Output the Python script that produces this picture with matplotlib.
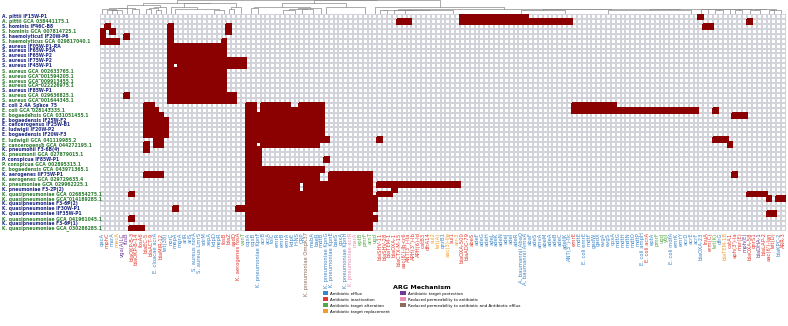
import matplotlib
matplotlib.use("Agg")
import matplotlib.pyplot as plt
import matplotlib.transforms as mtrans
from matplotlib.colors import ListedColormap
from matplotlib.patches import Patch
import numpy as np

# genomes (rows, top to bottom)
genomes = [
    "A. pittii IF15W-P1", "A. pittii GCA_038441175.1",
    "S. hominis IF46C-B8", "S. hominis GCA_007814725.1",
    "S. haemolyticus IF20W-P6", "S. haemolyticus GCA_029817040.1",
    "S. aureus IF05W-P1-RA", "S. aureus IF65W-P3A", "S. aureus IF65W-P2",
    "S. aureus IF75W-P2", "S. aureus IF45W-P1", "S. aureus GCA_002633765.1",
    "S. aureus GCA_001594205.1", "S. aureus GCA_009913455.1",
    "S. aureus GCA_022226975.1", "S. aureus IF85W-P1",
    "S. aureus GCA_029636825.1", "S. aureus GCA_001644345.1",
    "E. coli 2.4A_Space_75", "E. coli GCA_028143335.1",
    "E. bogaedensis GCA_031051455.1", "E. bogaedensis IF25W-F2",
    "E. cancerogenus IF25W-B1", "E. ludwigii IF20W-P2",
    "E. bogaedensis IF20W-F3", "E. ludwigii GCA_041119985.2",
    "E. cancerogenus GCA_044272195.1", "K. pneumonii F3-6B(4)",
    "K. pneumonii GCA_027879015.1", "P. conspicua IF85W-P1",
    "P. conspicua GCA_002895315.1", "E. bogaedensis GCA_043971365.1",
    "K. aerogenes IIF75W-P1", "K. aerogenes GCA_029729635.4",
    "K. pneumoniae GCA_029962225.1", "K. pneumoniae F3-2P(2)",
    "K. quasipneumoniae GCA_026854275.1", "K. quasipneumoniae GCA_014189285.1",
    "K. quasipneumoniae F3-6P(2)", "K. quasipneumoniae IF30W-P1",
    "K. quasipneumoniae IIF35W-P1", "K. quasipneumoniae GCA_041961045.1",
    "K. quasipneumoniae F3-6P(1)", "K. quasipneumoniae GCA_030286285.1",
]

# ARG columns (left to right) and their mechanism
genes = [
    "qacA", "mphC", "msrA", "mecA", "vga(A)LC", "fusB", "blaOKP-B-3",
    "blaOKP-B-14", "fosA6", "blaEC-5", "blaACT-9", "E. cloacae acrA",
    "blaMIR-12", "tet(38)", "norC", "mepA", "mgrA", "arlR", "arlS",
    "S. aureus norA", "S. aureus LmrS", "sdrM", "sepA", "kdpD", "mepR",
    "fosB", "blaZ", "aadD", "K. aerogenes fosA", "vanT", "oqxA", "oqxB",
    "K. pneumoniae KpnF", "acrB", "acrA", "tolC", "emrR", "emrB", "emrA",
    "kdpE", "H-NS", "CRP", "K. pneumoniae OmpK37", "msbA", "baeR", "mdtB",
    "K. pneumoniae KpnG", "K. pneumoniae KpnE", "baeS", "cpxA",
    "K. pneumoniae KpnH", "K. pneumoniae acrR", "marA", "eptB", "pmrF",
    "arnT", "ugd", "blaSHV-11", "blaSHV-28", "blaTEM-1", "blaOXA-1",
    "blaCTX-M-15", "aac(6')-Ib-cr6", "ANT(3'')-IIa", "APH(3'')-Ib",
    "APH(6)-Id", "catB3", "dfrA14", "sul2", "tet(A)", "qnrB1",
    "aac(3)-IIe", "sul1", "arr-3", "blaOXA-500", "blaADC-79", "abeS",
    "adeF", "adeG", "adeH", "adeL", "adeK", "adeN", "adeJ", "adeI", "adeR",
    "A. baumannii AbaQ", "A. baumannii AmvA", "abaF", "adeS", "amvA",
    "abeM", "adeA", "adeB", "adeC", "adeIJK", "ANT(3'')-IIc", "emrE",
    "mdtE", "E. coli emrE", "mdtF", "gadW", "gadX", "evgA", "evgS",
    "cpxA", "mdtG", "mdtH", "mdtN", "mdtO", "mdtP", "E. coli ampH",
    "E. coli acrA", "eptA", "pmrF", "ugd", "yojI", "E. coli mdfA", "emrK",
    "emrY", "acrD", "acrE", "acrF", "blaOXA-23", "lnuA", "erm(C)", "tet(K)",
    "dfrG", "blaTEM-1B", "catA1", "aph(3')-Ia", "msr(E)", "mph(E)",
    "blaOXA-58", "qnrS1", "blaDHA-1", "blaLAP-2", "aac(6')-Ian", "tet(D)",
    "blaKPC-2", "ARR-3",
]
mechs = (
    "EIERPPIIIIIEIEEEEEEEEEEEEIIIIA"
    "EEEEEEEEEEEEXEEEEEEEEYYAAAA"
    "IIIIIIIIIIIRRERIRIII"
    "EEEEEEEEEEEEEEEEEEEEI"
    "EEEEEEEEEEEEEEIEAAAEEEEEEE"
    "IIAERIIIPIIPIIIEII"
)

# present genes per genome: column indices / ranges
hits = [
    "74-87,123", "61-63,74-96,133", "1,14,26,124-125", "0,2,14,26",
    "0,5,14", "0-3,14,25",
    "14-25", "14-25", "14-25", "14-29", "14,16-29", "14-25", "14-25",
    "14-25", "14-25", "14-25", "5,14-27", "14-27",
    "9-10,30-31,33-38,41-45,97-105", "9-11,30-31,33-45,97-122,126",
    "9-12,30-45,130-132", "9-13,30-45", "9-13,30-45", "9-13,30-45",
    "9-13,30-45", "11-12,30-46,57,126-128", "9,11-12,30-31,33-44,129",
    "9,30-32", "30-32", "30-32,46", "30-32", "30-45",
    "9-12,30-44,47-55,130", "30-44,47-55", "30-40,42-55,57-73",
    "30-40,42-55,60", "6,30-55,57-59,133-136", "30-56,137,139-140",
    "30-56", "15,28-56", "30-55,137-138", "6,30-56", "30-55", "6-8,30-55",
]

mech_colors = {
    "E": "#3d85c6", "I": "#e03a2f", "A": "#55a845", "R": "#f39c2c",
    "P": "#6f3a98", "Y": "#e88fb4", "X": "#8c6d5a",
}
mech_names = {
    "E": "Antibiotic efflux", "I": "Antibiotic inactivation",
    "A": "Antibiotic target alteration", "R": "Antibiotic target replacement",
    "P": "Antibiotic target protection",
    "Y": "Reduced permeability to antibiotic",
    "X": "Reduced permeability to antibiotic and Antibiotic efflux",
}


def parse_hits(s):
    cols = []
    for part in s.split(","):
        if "-" in part:
            a, b = part.split("-")
            cols += list(range(int(a), int(b) + 1))
        else:
            cols.append(int(part))
    return cols


n_rows, n_cols = len(genomes), len(genes)
mat = np.zeros((n_rows, n_cols))
for r, s in enumerate(hits):
    mat[r, parse_hits(s)] = 1


def adjacent_tree(m):
    # merge neighbouring columns (closest centroids first) so leaf order is kept
    nodes = [(m[:, i], i + 0.5, 0.0, 1) for i in range(m.shape[1])]
    links = []
    while len(nodes) > 1:
        d = [np.linalg.norm(nodes[i][0] - nodes[i + 1][0]) for i in range(len(nodes) - 1)]
        k = int(np.argmin(d))
        a, b = nodes[k], nodes[k + 1]
        h = max(d[k], a[2], b[2])
        links.append((a[1], a[2], b[1], b[2], h))
        cen = (a[0] * a[3] + b[0] * b[3]) / (a[3] + b[3])
        nodes[k:k + 2] = [(cen, (a[1] + b[1]) / 2, h, a[3] + b[3])]
    return links


W, H = 788, 326
fig = plt.figure(figsize=(W / 100, H / 100), dpi=100)
hx0, hx1, hy0, hy1 = 100, 786, 14, 231
ax = fig.add_axes([hx0 / W, 1 - hy1 / H, (hx1 - hx0) / W, (hy1 - hy0) / H])
# white grid first, then solid red cells on top (no grid lines over red)
ax.pcolormesh(np.zeros_like(mat), cmap=ListedColormap(["white"]),
              edgecolors="#d2d2da", linewidth=0.3)
ax.pcolormesh(np.ma.masked_equal(mat, 0), cmap=ListedColormap(["#8b0000"]),
              edgecolors="face", linewidth=0.3)
ax.set_xlim(0, n_cols)
ax.set_ylim(n_rows, 0)
for s in ax.spines.values():
    s.set_visible(False)

ax.set_yticks([])
ax.set_xticks(np.arange(n_cols) + 0.5)
ax.set_xticklabels(genes, rotation=90, fontsize=3.8)
ax.tick_params(axis="x", length=0, pad=1)
for lbl, m in zip(ax.get_xticklabels(), mechs):
    lbl.set_color(mech_colors[m])

trans = mtrans.blended_transform_factory(fig.transFigure, ax.transData)
for r, g in enumerate(genomes):
    col = "#2f7d32" if "GCA" in g else "#1f2a80"
    ax.text(2 / W, r + 0.5, g, transform=trans, fontsize=3.25, va="center",
            ha="left", color=col, fontweight="bold")

# column dendrogram
dax = fig.add_axes([hx0 / W, 1 - hy0 / H, (hx1 - hx0) / W, hy0 / H])
links = adjacent_tree(mat)
top = max(l[4] for l in links)
for xa, ha, xb, hb, h in links:
    dax.plot([xa, xa, xb, xb], [ha, h, h, hb], color="#8a8a8a", lw=0.5)
dax.set_xlim(0, n_cols)
dax.set_ylim(0, top * 1.03)
dax.axis("off")

handles = [Patch(facecolor=mech_colors[k], edgecolor="none", label=mech_names[k])
           for k in ["E", "I", "A", "R", "P", "Y", "X"]]
leg = fig.legend(handles=handles, ncol=2, loc="upper center",
                 bbox_to_anchor=(0.535, 0.138), fontsize=2.9, frameon=False,
                 title="ARG Mechanism", handlelength=1.3, handleheight=1.0,
                 columnspacing=2.5, labelspacing=0.45, handletextpad=0.6)
leg.get_title().set_fontsize(4.6)
leg.get_title().set_fontweight("bold")

fig.savefig("out.png", dpi=100)
